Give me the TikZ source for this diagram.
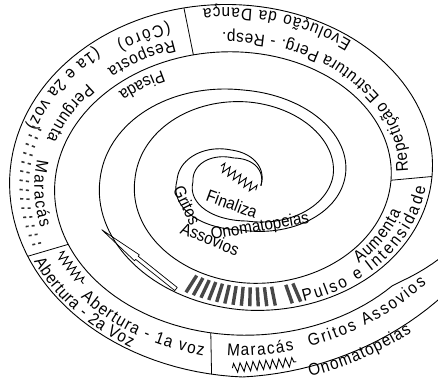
\documentclass[tikz,border=0pt]{standalone}
\usepackage{fontspec}
\setmainfont{Liberation Sans}
\newfontfamily\bandfam[FakeStretch=0.9]{Liberation Sans}
\usetikzlibrary{decorations.text,decorations.pathmorphing}
\newcommand\bandfont{\bandfam\fontsize{17}{19}\selectfont}
\newcommand\alongband[4]{%
  \path[decorate,decoration={text along path,text align=fit to path,text={|\bandfont|#4}}]
    plot[domain=0:1,samples=40] ({Xm(#1+(#2-#1)*\x,#3)},{Ym(#1+(#2-#1)*\x,#3)});}
\begin{document}
\begin{tikzpicture}[x=1pt,y=-1pt,
  declare function={
    XL(\s)=(\s<514)?(10+(\s-154)*0.25):((\s<874)?(100+(\s-514)*0.21389):(177+(\s-874)*0.04571));
    XR(\s)=(\s<694)?(432-(\s-334)*0.24167):(345-(\s-694)*0.23662);
    YB(\s)=(\s<64)?(377+(\s-64)*0.214):((\s<424)?(377-(\s-64)*0.18611):((\s<784)?(310-(\s-424)*0.22222):(230-(\s-784)*0.04528)));
    YT(\s)=(\s<604)?(5+(\s-244)*0.23611):((\s<964)?(90+(\s-604)*0.16667):(150+(\s-964)*0.1));
    XLi(\s)=(\s<514)?(55+(\s-154)*0.22222):((\s<874)?(135+(\s-514)*0.16111):(193-(\s-874)*0.04571));
    XRi(\s)=(\s<14)?(391-(\s-334)*0.16111+(14-\s)):((\s<694)?(391-(\s-334)*0.16111):(333-(\s-694)*0.20282));
    YBi(\s)=(\s<14)?(335-(\s-64)*0.14444+(14-\s)*0.8):((\s<424)?(335-(\s-64)*0.14444):((\s<784)?(283-(\s-424)*0.17222):(221-(\s-784)*0.01132)));
    YTi(\s)=(\s<604)?(52+(\s-244)*0.13889):((\s<964)?(102+(\s-604)*0.15556):(158+(\s-964)*0.00588));
    Xo(\s)=(XL(\s)+XR(\s))/2+(XR(\s)-XL(\s))/2*cos(\s+26);
    Yo(\s)=(YB(\s)+YT(\s))/2+(YB(\s)-YT(\s))/2*sin(\s+26);
    Xi(\s)=(XLi(\s)+XRi(\s))/2+(XRi(\s)-XLi(\s))/2*cos(\s+26);
    Yi(\s)=(YBi(\s)+YTi(\s))/2+(YBi(\s)-YTi(\s))/2*sin(\s+26);
    Xm(\s,\w)=Xo(\s)+\w*(Xi(\s)-Xo(\s));
    Ym(\s,\w)=Yo(\s)+\w*(Yi(\s)-Yo(\s));
  },
  spiral/.style={line width=0.9pt,line join=round},
  divider/.style={line width=0.8pt},
  squiggle/.style={line width=0.9pt,line join=miter,decorate,decoration={zigzag,segment length=6.5pt,amplitude=4.5pt}},
  bar/.style={line width=3.4pt,black!72},
  tick/.style={line width=1.6pt,black!80},
  lbl/.style={font=\bandfont,inner sep=0pt}
]
\useasboundingbox (0,0) rectangle (438,380);
\fill[white] (0,0) rectangle (438,380);
\begin{scope}
  \clip (0,0) rectangle (438,380);
  \draw[spiral] plot[domain=-40:1049,samples=420] ({Xo(\x)},{Yo(\x)});
  \draw[spiral] plot[domain=-40:1049,samples=420] ({Xi(\x)},{Yi(\x)});
\end{scope}
% dividers
\foreach \s/\n in {71/a,128/b,228/c,334/d}{
  \coordinate (dv\n o) at ({Xo(\s)},{Yo(\s)});
  \coordinate (dv\n i) at ({Xi(\s)},{Yi(\s)});
  \draw[divider] (dv\n o) -- (dv\n i);
}
% texts in the band
\alongband{277}{233}{0.07}{Evolução da Dança}
\alongband{331}{238}{0.6}{Repetição Estrutura Perg. - Resp.}
\alongband{223}{207}{0.25}{(Côro)}
\alongband{223}{200}{0.62}{Resposta}
\alongband{201}{169}{0.13}{(1a e 2a voz)}
\alongband{192}{168}{0.62}{Pergunta}
\alongband{160}{136}{0.55}{Maracás}
\alongband{126}{91}{0.07}{Abertura - 2a Voz}
\alongband{110}{73}{0.42}{Abertura - 1a voz}
\alongband{67}{50}{0.5}{Maracás}
\alongband{46}{12}{0.5}{Gritos Assovios}
\alongband{50}{27}{-0.25}{Onomatopeias}
\alongband{403}{338}{0.12}{Pulso e Intensidade}
\alongband{377}{349}{0.55}{Aumenta}
\alongband{216}{198}{1.15}{Pisada}
% maraca ticks (left)
\foreach \k in {0,...,13}{
  \pgfmathsetmacro\sv{131+\k*3}
  \draw[tick] ({Xm(\sv,0.22)},{Ym(\sv,0.22)}) -- ({Xm(\sv,0.29)},{Ym(\sv,0.29)});
  \draw[tick] ({Xm(\sv,0.36)},{Ym(\sv,0.36)}) -- ({Xm(\sv,0.43)},{Ym(\sv,0.43)});
}
% bars
\foreach \sv in {446,443,440,437,434,431,428,425,422,419,416,413,407,404}{
  \draw[bar] ({Xm(\sv,0.15)},{Ym(\sv,0.15)}) -- ({Xm(\sv,0.85)},{Ym(\sv,0.85)});
}
% squiggles
\coordinate (wa1) at ({Xm(66,0.2)},{Ym(66,0.2)});
\coordinate (wa2) at ({Xm(51,0.2)},{Ym(51,0.2)});
\draw[squiggle] (wa1) -- (wa2);
\coordinate (wb1) at ({Xm(126,0.72)},{Ym(126,0.72)});
\coordinate (wb2) at ({Xm(113,0.72)},{Ym(113,0.72)});
\draw[squiggle] (wb1) -- (wb2);
\coordinate (wc1) at (221,166);
\coordinate (wc2) at (256,190);
\draw[squiggle] (wc1) -- (wc2);
% arrow
\begin{scope}[shift={(176,289)},rotate=141.4]
  \draw[line width=0.7pt,line join=round] (0,2) -- (50,2) -- (50,3.8) -- (95,0) -- (50,-3.8) -- (50,-2) -- (0,-2) -- cycle;
\end{scope}
% centre texts
\node[lbl,rotate=-20] (fin) at (232,204) {Finaliza};
\node[lbl,rotate=-64] (gri) at (187,205) {Gritos};
\node[lbl,rotate=-22] (ass) at (210,239) {Assovios};
\node[lbl,rotate=10] (ono) at (260,227) {Onomatopeias};
\end{tikzpicture}
\end{document}
